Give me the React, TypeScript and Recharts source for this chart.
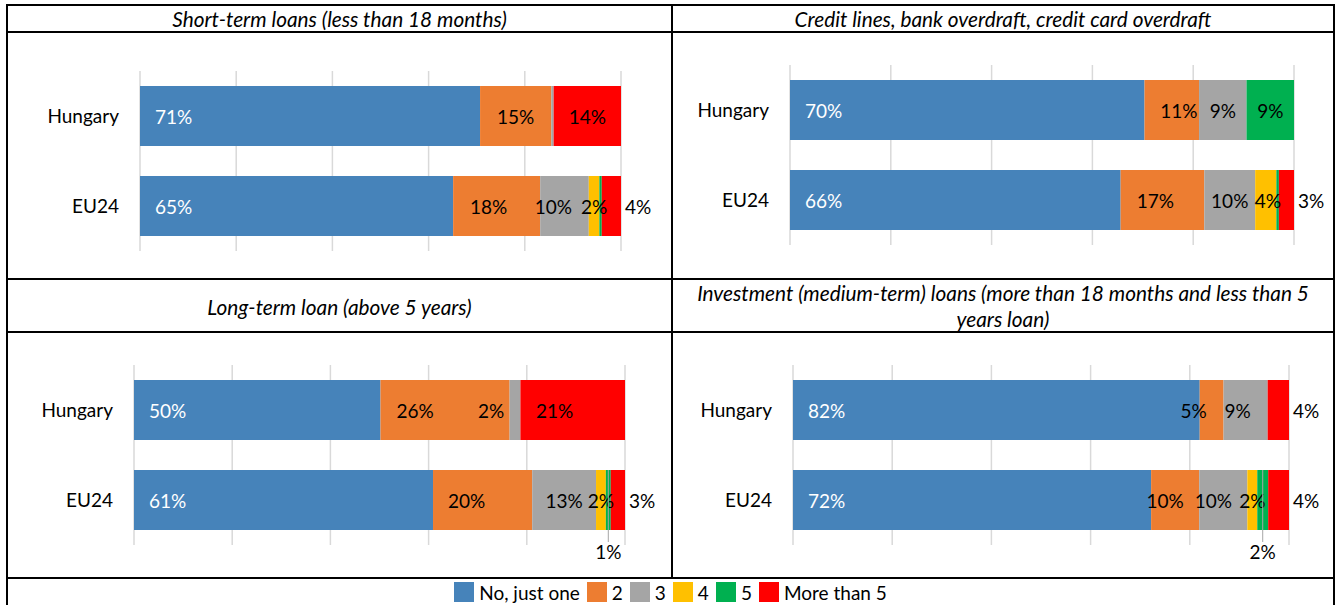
import React from "react";
import { BarChart, Bar, XAxis, YAxis, CartesianGrid, LabelList } from "recharts";

const countries = ["Hungary", "EU24"];
const answerLabels = ["No, just one", "2", "3", "4", "5", "More than 5"];
const answerKeys = ["one", "two", "three", "four", "five", "more"];
const answerColors = ["#4683BA", "#ED7D31", "#A5A5A5", "#FFC000", "#00B050", "#FF0000"];

// shares in %, same order as answerLabels
const shortTermHungary = [70.7, 14.8, 0.5, 0, 0, 14.0];
const shortTermEU24 = [65.1, 18.1, 10.1, 2.2, 0.5, 4.0];
const creditHungary = [70.2, 10.8, 9.4, 0, 9.4, 0];
const creditEU24 = [65.6, 16.6, 10.1, 4.2, 0.5, 3.0];
const longTermHungary = [50.2, 26.3, 2.2, 0, 0, 21.3];
const longTermEU24 = [60.9, 20.2, 13.0, 2.0, 1.0, 2.9];
const investHungary = [82.0, 4.8, 8.9, 0, 0, 4.3];
const investEU24 = [72.2, 9.7, 9.7, 2.0, 2.2, 4.2];

const xTicks = [0, 0.2, 0.4, 0.6, 0.8, 1];

const FONT = "Lato, 'Open Sans', sans-serif";

type Rect = { left: number; top: number; right: number; bottom: number };

// panel boxes and plot areas (page coordinates)
const layout: Record<string, { box: Rect; plot: Rect }> = {
  shortTerm: {
    box: { left: 7, top: 33, right: 672, bottom: 279 },
    plot: { left: 140, top: 71, right: 621, bottom: 251 },
  },
  credit: {
    box: { left: 672, top: 33, right: 1334, bottom: 279 },
    plot: { left: 790, top: 65, right: 1294, bottom: 245 },
  },
  longTerm: {
    box: { left: 7, top: 332, right: 672, bottom: 578 },
    plot: { left: 134, top: 365, right: 625, bottom: 545 },
  },
  invest: {
    box: { left: 672, top: 332, right: 1334, bottom: 578 },
    plot: { left: 793, top: 365, right: 1289, bottom: 545 },
  },
};

// hand-nudged label offsets, like the moved labels in the original
const labelNudge: Record<string, number[][]> = {
  shortTerm: [[0, 0, 0, 0, 0, 0], [0, -8, -11, 0, 0, 0]],
  credit: [[0, 7, 0, 0, 0, 0], [0, -7, 0, 2, 0, 0]],
  longTerm: [[0, -30, -24, 0, 0, -18], [0, -16, 0, 0, 0, 0]],
  invest: [[0, -18, -8, 0, 0, 0], [0, -10, -10, 0, 0, 0]],
};

function buildRows(values: number[][]) {
  return countries.map((name, i) => {
    const row: Record<string, string | number> = { name };
    answerKeys.forEach((k, j) => {
      row[k] = values[i][j];
    });
    return row;
  });
}

// zero-width bars are dropped from the label list, so the row is found from the bar's position
function makeLabel(id: string, values: number[][], s: number) {
  const { box, plot } = layout[id];
  const midY = (plot.top + plot.bottom) / 2 - box.top;
  const nudge = labelNudge[id];
  return (props: any) => {
    const x = Number(props.x);
    const y = Number(props.y);
    const width = Number(props.width);
    const height = Number(props.height);
    const row = y + height / 2 < midY ? 0 : 1;
    const v = values[row][s];
    if (v < 1) return null;
    const text = `${Math.round(v)}%`;
    const cy = y + height / 2;
    const common = { fontSize: 19, dominantBaseline: "central" as const, fontFamily: FONT };
    if (s === 0) {
      return (
        <text x={x + 15} y={cy} fill="#fff" textAnchor="start" {...common}>
          {text}
        </text>
      );
    }
    if (s === 5 && v < 5) {
      return (
        <text x={x + width + 4} y={cy} fill="#000" textAnchor="start" {...common}>
          {text}
        </text>
      );
    }
    if (s === 4 && v < 3) {
      const cx = x + width / 2;
      const bottom = y + height;
      return (
        <g>
          <line x1={cx} x2={cx} y1={y} y2={bottom + 12} stroke="#A6A6A6" strokeWidth={1} />
          <text x={cx} y={bottom + 21} fill="#000" textAnchor="middle" {...common}>
            {text}
          </text>
        </g>
      );
    }
    const cx = x + width / 2 + nudge[row][s];
    return (
      <text x={cx} y={cy} fill="#000" textAnchor="middle" {...common}>
        {text}
      </text>
    );
  };
}

function LoanPanel({ id, values }: { id: string; values: number[][] }) {
  const { box, plot } = layout[id];
  const yAxisWidth = 100;
  const rows = buildRows(values);
  return (
    <div style={{ position: "absolute", left: box.left, top: box.top }}>
      <BarChart
        width={box.right - box.left}
        height={box.bottom - box.top}
        data={rows}
        layout="vertical"
        stackOffset="expand"
        margin={{
          top: plot.top - box.top,
          bottom: box.bottom - plot.bottom,
          left: plot.left - box.left - yAxisWidth,
          right: box.right - plot.right,
        }}
        style={{ overflow: "visible" }}
      >
        <CartesianGrid horizontal={false} vertical stroke="#D9D9D9" strokeWidth={1.5} />
        <XAxis type="number" domain={[0, 1]} ticks={xTicks} hide />
        <YAxis
          type="category"
          dataKey="name"
          width={yAxisWidth}
          axisLine={false}
          tickLine={false}
          tickMargin={15}
          tick={{ fontSize: 19, fill: "#000", fontFamily: FONT }}
        />
        {answerKeys.map((k, s) => (
          <Bar
            key={k}
            dataKey={k}
            name={answerLabels[s]}
            stackId="a"
            fill={answerColors[s]}
            barSize={60}
            isAnimationActive={false}
          >
            <LabelList content={makeLabel(id, values, s)} />
          </Bar>
        ))}
      </BarChart>
    </div>
  );
}

function HLine({ y, x1, x2 }: { y: number; x1: number; x2: number }) {
  return <div style={{ position: "absolute", left: x1 - 1, top: y - 1, width: x2 - x1 + 2, height: 2, background: "#000" }} />;
}

function VLine({ x, y1, y2 }: { x: number; y1: number; y2: number }) {
  return <div style={{ position: "absolute", left: x - 1, top: y1 - 1, width: 2, height: y2 - y1 + 2, background: "#000" }} />;
}

const titleStyle: React.CSSProperties = {
  position: "absolute",
  fontStyle: "italic",
  fontSize: 20.8,
  color: "#000",
  textAlign: "center",
  whiteSpace: "nowrap",
};

export default function App() {
  return (
    <div
      style={{
        position: "absolute",
        left: 0,
        top: 0,
        width: 1336,
        height: 605,
        background: "#fff",
        overflow: "hidden",
        fontFamily: FONT,
      }}
    >
      <div style={{ ...titleStyle, left: 7, width: 665, top: 6, lineHeight: "26px" }}>
        Short-term loans (less than 18 months)
      </div>
      <div style={{ ...titleStyle, left: 672, width: 662, top: 6, lineHeight: "26px" }}>
        Credit lines, bank overdraft, credit card overdraft
      </div>
      <div style={{ ...titleStyle, left: 7, width: 665, top: 294, lineHeight: "26px" }}>
        Long-term loan (above 5 years)
      </div>
      <div style={{ ...titleStyle, left: 672, width: 662, top: 280, lineHeight: "26px" }}>
        Investment (medium-term) loans (more than 18 months and less than 5
        <br />
        years loan)
      </div>

      <LoanPanel id="shortTerm" values={[shortTermHungary, shortTermEU24]} />
      <LoanPanel id="credit" values={[creditHungary, creditEU24]} />
      <LoanPanel id="longTerm" values={[longTermHungary, longTermEU24]} />
      <LoanPanel id="invest" values={[investHungary, investEU24]} />

      <div
        style={{
          position: "absolute",
          left: 7,
          width: 1327,
          top: 581,
          height: 22,
          display: "flex",
          justifyContent: "center",
          alignItems: "center",
          fontSize: 19,
        }}
      >
        {answerLabels.map((label, i) => (
          <div key={label} style={{ display: "flex", alignItems: "center", marginRight: i < answerLabels.length - 1 ? 7 : 0 }}>
            <span style={{ width: 20, height: 20, background: answerColors[i], marginRight: 5, display: "inline-block" }} />
            <span>{label}</span>
          </div>
        ))}
      </div>

      <HLine y={5} x1={7} x2={1334} />
      <HLine y={32} x1={7} x2={1334} />
      <HLine y={279} x1={7} x2={1334} />
      <HLine y={332} x1={7} x2={1334} />
      <HLine y={578} x1={7} x2={1334} />
      <VLine x={7} y1={5} y2={605} />
      <VLine x={672} y1={5} y2={578} />
      <VLine x={1334} y1={5} y2={605} />
    </div>
  );
}
